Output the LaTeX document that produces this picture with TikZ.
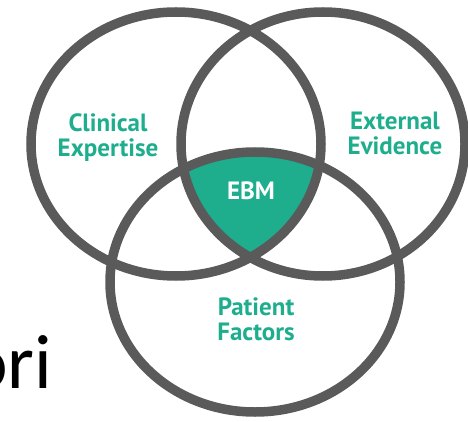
\documentclass[tikz,border=0pt]{standalone}
\usepackage{fontspec}
\setmainfont{PT Sans}
\newfontfamily\slidefont{Carlito}
\usepackage{tikz}
\usetikzlibrary{positioning}

\definecolor{ebmgreen}{RGB}{30,174,141}
\definecolor{ringgray}{RGB}{90,90,90}

\begin{document}
\begin{tikzpicture}[x=1pt, y=-1pt,
    ring/.style={draw=ringgray, line width=9.5pt},
    lbl/.style={align=center, text=ebmgreen, font=\fontsize{25}{25}\selectfont\bfseries, inner sep=0pt}]
    \useasboundingbox (0,0) rectangle (468,422);
    \clip (0,0) rectangle (468,422);

    % centres of the three rings
    \coordinate (clinical) at (176,144);
    \coordinate (external) at (323,144);
    \coordinate (patient) at (255,282);

    % the shared area in the middle
    \begin{scope}
        \clip (clinical) ellipse [x radius=145pt, y radius=132pt];
        \clip (external) ellipse [x radius=142pt, y radius=132pt];
        \fill[ebmgreen] (patient) ellipse [x radius=145pt, y radius=130pt];
    \end{scope}

    % the rings
    \draw[ring] (clinical) ellipse [x radius=145pt, y radius=132pt];
    \draw[ring] (external) ellipse [x radius=142pt, y radius=132pt];
    \draw[ring] (patient) ellipse [x radius=145pt, y radius=130pt];

    % the labels (base is the baseline of the last line)
    \node[lbl, anchor=base] (clinicalLbl) at (108,157) {Clinical\\Expertise};
    \node[lbl, anchor=base] (externalLbl) at (395,155) {External\\Evidence};
    \node[lbl, anchor=base, text=white] (ebmLbl) at (251,200) {EBM};
    \node[lbl, anchor=base] (patientLbl) at (256,340) {Patient\\Factors};

    % slide text running in from the left
    \node[anchor=base west, inner sep=0pt, font=\slidefont\fontsize{77}{77}\selectfont] (slideText) at (-33,388) {ori};
\end{tikzpicture}
\end{document}
